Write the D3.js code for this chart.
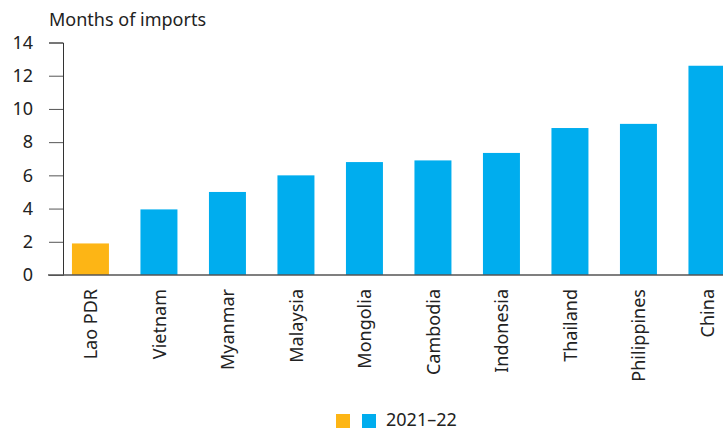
<!DOCTYPE html>
<html><head><meta charset="utf-8">
<script src="https://cdn.jsdelivr.net/npm/d3@7"></script>
<style>body{margin:0;background:#fff}svg{display:block;font-family:"Noto Sans",sans-serif}</style>
</head><body><svg id="c" width="723" height="430"></svg>
<script>
const categories = ["Lao PDR","Vietnam","Myanmar","Malaysia","Mongolia","Cambodia","Indonesia","Thailand","Philippines","China"];
const values = [1.9, 3.95, 5.0, 6.0, 6.8, 6.9, 7.35, 8.85, 9.1, 12.6];
const highlight = ["Lao PDR"];
const yTicks = [0,2,4,6,8,10,12,14];
const seriesName = "2021–22";
const yTitle = "Months of imports";

const svg = d3.select("#c");
const x = d3.scaleBand().domain(categories).range([56.2, 741.2]).paddingInner(0.46).paddingOuter(0.23);
const y = d3.scaleLinear().domain([0,14]).range([275, 42.5]);
const orange = "#FDB515", blue = "#00ADEE";
const fs = 18;

svg.append("g").selectAll("rect").data(categories).join("rect")
  .attr("x", d => x(d)).attr("width", x.bandwidth())
  .attr("y", (d,i) => y(values[i])).attr("height", (d,i) => y(0) - y(values[i]))
  .attr("fill", d => highlight.includes(d) ? orange : blue);

// y axis
const ya = svg.append("g").attr("transform","translate(63,0)")
  .call(d3.axisLeft(y).tickValues(yTicks).tickSize(14).tickPadding(16));
ya.select(".domain").attr("stroke","#333").attr("stroke-width",1);
ya.selectAll(".tick line").attr("stroke","#555");
ya.selectAll("text").attr("font-size",fs).attr("fill","#222").attr("font-family","Noto Sans");

// baseline
svg.append("line").attr("x1",48).attr("x2",723).attr("y1",y(0)).attr("y2",y(0))
  .attr("stroke","#555").attr("stroke-width",1.5);

// x labels
svg.append("g").selectAll("text").data(categories).join("text")
  .attr("transform", d => `translate(${x(d)+x.bandwidth()/2+7},289) rotate(-90)`)
  .attr("text-anchor","end").attr("font-size",fs).attr("fill","#222")
  .text(d => d);

// title
svg.append("text").attr("x",49).attr("y",26).attr("font-size",fs).attr("fill","#222").text(yTitle);

// legend
svg.append("rect").attr("x",336).attr("y",414).attr("width",14).attr("height",14).attr("fill",orange);
svg.append("rect").attr("x",362).attr("y",414).attr("width",14).attr("height",14).attr("fill",blue);
svg.append("text").attr("x",386).attr("y",426).attr("font-size",fs).attr("fill","#222").text(seriesName);
</script></body></html>
